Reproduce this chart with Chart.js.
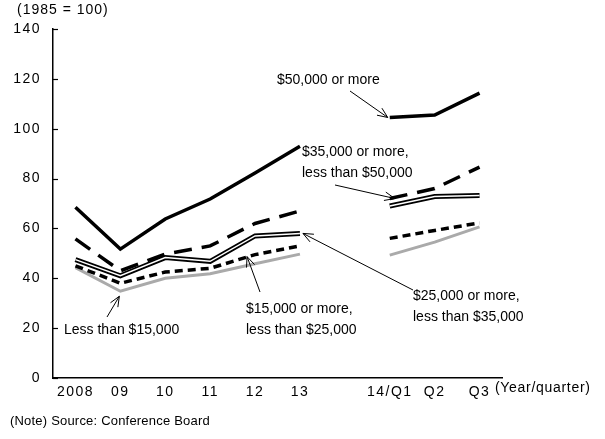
<!DOCTYPE html>
<html>
<head>
<meta charset="utf-8">
<script src="https://cdn.jsdelivr.net/npm/chart.js@4"></script>
<style>
  html, body { margin: 0; padding: 0; background: #fff; }
  #wrap { width: 605px; height: 439px; position: relative; }
</style>
</head>
<body>
<div id="wrap"><canvas id="chart"></canvas></div>
<script>
// x categories (blank slot separates annual and quarterly data)
const periods = ["2008", "09", "10", "11", "12", "13", "", "14/Q1", "Q2", "Q3"];

// consumer confidence index by household income (1985 = 100)
const over50k    = [68.5, 51.7, 63.8, 71.8, 82.2, 93.0, null, 104.5, 105.5, 114.3];
const from35to50 = [55.8, 43.0, 49.7, 53.0, 62.0, 67.0, null, 72.0, 76.0, 84.6];
const from25to35 = [47.5, 41.0, 48.3, 46.8, 57.0, 58.0, null, 69.0, 72.8, 73.2];
const from15to25 = [45.0, 38.0, 42.5, 44.0, 49.5, 53.0, null, 56.0, 59.2, 62.2];
const under15k   = [44.3, 34.8, 40.0, 41.8, 45.8, 49.7, null, 49.3, 54.5, 60.6];

const FONT = "'Liberation Sans', Arial, sans-serif";

// text labels + arrows pointing at a series point
const notes = [
  { lines: ["$50,000 or more"], x: 277, y: 80, tail: [350, 91], series: over50k, idx: 7, dx: -2, dy: 0 },
  { lines: ["$35,000 or more,", "less than $50,000"], x: 302, y: 152, tail: [335, 185], series: from35to50, idx: 7, dx: 5, dy: 0 },
  { lines: ["$25,000 or more,", "less than $35,000"], x: 413, y: 296, tail: [413, 290], series: from25to35, idx: 5, dx: 3, dy: 0 },
  { lines: ["$15,000 or more,", "less than $25,000"], x: 246, y: 309, tail: [260, 292], series: from15to25, idx: 4, dx: -8, dy: 2 },
  { lines: ["Less than $15,000"], x: 64, y: 330, tail: [107, 317], series: under15k, idx: 1, dx: -1, dy: 5 }
];

function arrow(ctx, x1, y1, x2, y2) {
  const a = Math.atan2(y2 - y1, x2 - x1);
  const len = 11, spread = 0.4;
  ctx.beginPath();
  ctx.moveTo(x1, y1);
  ctx.lineTo(x2, y2);
  ctx.moveTo(x2 - len * Math.cos(a - spread), y2 - len * Math.sin(a - spread));
  ctx.lineTo(x2, y2);
  ctx.lineTo(x2 - len * Math.cos(a + spread), y2 - len * Math.sin(a + spread));
  ctx.stroke();
}

const extras = {
  id: "extras",
  beforeDraw(chart) {
    // the original's tick digits are set wide
    chart.ctx.letterSpacing = "1.5px";
  },
  afterDraw(chart) {
    const { ctx, chartArea, scales } = chart;
    ctx.save();
    ctx.strokeStyle = "#000";
    ctx.fillStyle = "#000";

    // inward y ticks
    ctx.lineWidth = 1.2;
    scales.y.ticks.forEach((t) => {
      const py = Math.round(scales.y.getPixelForValue(t.value)) + 0.5;
      ctx.beginPath();
      ctx.moveTo(chartArea.left, py);
      ctx.lineTo(chartArea.left + 5, py);
      ctx.stroke();
    });

    ctx.font = "14px " + FONT;
    ctx.textBaseline = "middle";
    ctx.textAlign = "left";
    ctx.letterSpacing = "1px";
    ctx.fillText("(1985 = 100)", 17, 10);
    ctx.letterSpacing = "0.7px";
    ctx.fillText("(Year/quarter)", 495, 388);
    ctx.letterSpacing = "0.2px";
    ctx.font = "13px " + FONT;
    ctx.fillText("(Note) Source: Conference Board", 10, 421);

    ctx.letterSpacing = "0px";
    ctx.font = "14px " + FONT;
    ctx.lineWidth = 1;
    notes.forEach((n) => {
      n.lines.forEach((l, i) => ctx.fillText(l, n.x, n.y + i * 21));
      const tx = scales.x.getPixelForValue(n.idx) + n.dx;
      const ty = scales.y.getPixelForValue(n.series[n.idx]) + n.dy;
      arrow(ctx, n.tail[0], n.tail[1], tx, ty);
    });
    ctx.restore();
  }
};

function line(data, color, width, dash, order) {
  return {
    data: data,
    borderColor: color,
    borderWidth: width,
    borderDash: dash || [],
    pointRadius: 0,
    tension: 0,
    spanGaps: false,
    order: order
  };
}

new Chart(document.getElementById("chart"), {
  type: "line",
  data: {
    labels: periods,
    datasets: [
      line(over50k, "#000", 3.5, null, 1),
      line(from35to50, "#000", 3.5, [18, 10], 2),
      line(from25to35, "#fff", 1.5, null, 3),
      line(from25to35, "#000", 5, null, 4),
      line(from15to25, "#000", 3.5, [8, 5], 5),
      line(under15k, "#aaaaaa", 3, null, 6)
    ]
  },
  options: {
    responsive: true,
    maintainAspectRatio: false,
    animation: false,
    layout: { padding: { top: 29, right: 103, bottom: 0, left: 0 } },
    plugins: { legend: { display: false }, tooltip: { enabled: false } },
    scales: {
      x: {
        offset: true,
        grid: { display: false, drawTicks: false },
        border: { color: "#000", width: 1.5 },
        ticks: { color: "#000", font: { family: FONT, size: 14 }, padding: 6, autoSkip: false, maxRotation: 0 },
        afterFit: (s) => { s.height = 61; }
      },
      y: {
        min: 0,
        max: 140,
        grid: { display: false, drawTicks: false },
        border: { color: "#000", width: 1.5 },
        ticks: { stepSize: 20, color: "#000", font: { family: FONT, size: 14 }, padding: 12 },
        afterFit: (s) => { s.width = 53; }
      }
    }
  },
  plugins: [extras]
});
</script>
</body>
</html>
